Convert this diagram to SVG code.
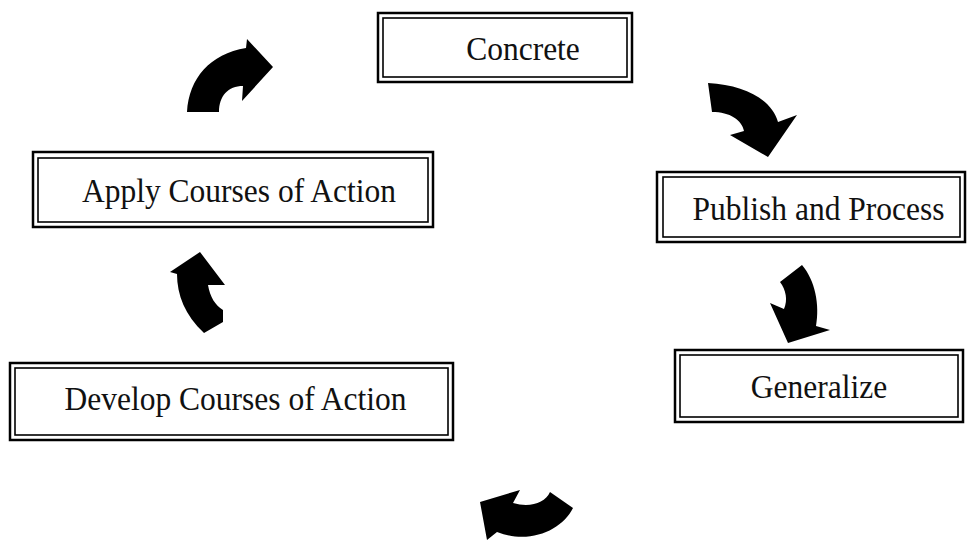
<svg xmlns="http://www.w3.org/2000/svg" width="967" height="541" viewBox="0 0 967 541">
<style>
.outer{fill:#fff;stroke:#000;stroke-width:2.5}
.inner{fill:none;stroke:#000;stroke-width:1.6}
.lbl{font-family:'Liberation Serif','DejaVu Serif',serif;font-size:31.5px;fill:#111;text-anchor:middle}
.arr{fill:#000}
</style>
<rect width="967" height="541" fill="#fff"/>
<g id="concrete">
<rect class="outer" x="378" y="13" width="254" height="69"/>
<rect class="inner" x="383" y="18" width="244" height="59"/>
<text class="lbl" font-family="Liberation Serif" transform="translate(523,60) scale(1,1.08)">Concrete</text>
</g>
<g id="publish">
<rect class="outer" x="657" y="172" width="308" height="70"/>
<rect class="inner" x="663" y="177" width="297" height="60"/>
<text class="lbl" font-family="Liberation Serif" transform="translate(818.5,220) scale(1,1.08)">Publish and Process</text>
</g>
<g id="generalize">
<rect class="outer" x="675" y="350" width="288" height="72"/>
<rect class="inner" x="680" y="355" width="278" height="62"/>
<text class="lbl" font-family="Liberation Serif" transform="translate(819,398) scale(1,1.08)">Generalize</text>
</g>
<g id="develop">
<rect class="outer" x="10" y="363" width="443" height="77"/>
<rect class="inner" x="15" y="368" width="433" height="67"/>
<text class="lbl" font-family="Liberation Serif" transform="translate(235.5,410) scale(1,1.08)">Develop Courses of Action</text>
</g>
<g id="apply">
<rect class="outer" x="33" y="152" width="400" height="75"/>
<rect class="inner" x="38" y="158" width="390" height="64"/>
<text class="lbl" font-family="Liberation Serif" transform="translate(239,202) scale(1,1.08)">Apply Courses of Action</text>
</g>
<g id="connectors">
<path class="arr" d="M187,112 C189,78 210,54 246,48 L247,39 L273,67 L242,101 L243,86 C228,86 219,96 219,112 Z"/>
<path class="arr" d="M708,83 C745,85 772,100 778,122 L797,115 L768,157 L730,135 L744,131 C742,120 730,112 712,112 Z"/>
<path class="arr" d="M802,265 C815,280 820,305 816,326 L830,330 L788,343 L770,303 L784,309 C788,300 786,290 780,282 Z"/>
<path class="arr" d="M573,508 C562,530 530,545 497,532 L487,540 L480,502 L520,490 L513,503 C530,508 545,503 550,492 Z"/>
<path class="arr" d="M200,252 L225,285 L208,285 C210,297 215,305 223,310 L223,322 L204,333 C185,315 177,295 177,274 L170,272 Z"/>
</g>
</svg>
